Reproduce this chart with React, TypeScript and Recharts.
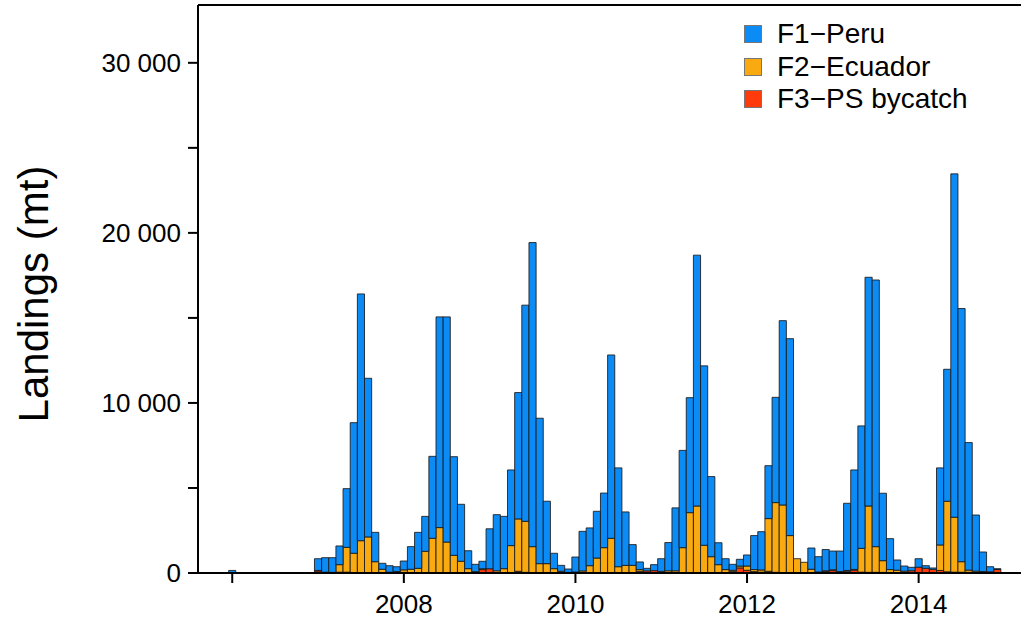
import { BarChart, Bar, XAxis, YAxis, Legend, ReferenceLine } from "recharts";

const font = "'Liberation Sans', Arial, Helvetica, sans-serif";

const startYear = 2006;

// monthly landings (mt), Jan..Dec for each year 2006-2014
const peru = [
  150, 0, 0, 0, 0, 0, 0, 0, 0, 0, 0, 0, // 2006
  690, 850, 860, 1100, 3450, 7680, 14510, 9330, 1725, 350, 380, 280, // 2007
  520, 1330, 2115, 2055, 4820, 12390, 13240, 5800, 3350, 1055, 430, 440, // 2008
  2350, 3300, 3075, 4450, 7430, 12710, 17880, 8550, 3670, 905, 350, 200, // 2009
  880, 2330, 2220, 2750, 3210, 10780, 5810, 3140, 1220, 450, 150, 350, // 2010
  740, 1660, 3700, 5720, 6760, 14750, 10550, 4710, 1290, 640, 350, 400, // 2011
  650, 2000, 2250, 3110, 6190, 10840, 11580, 0, 0, 1250, 900, 1250, // 2012
  1100, 1200, 3950, 5850, 7200, 13450, 15680, 3965, 1820, 600, 300, 200, // 2013
  500, 150, 80, 4530, 7760, 20190, 14885, 7500, 3300, 1150, 300, 50, // 2014
];

const ecuador = [
  0, 0, 0, 0, 0, 0, 0, 0, 0, 0, 0, 0,
  30, 0, 0, 440, 1460, 1130, 1870, 2090, 640, 200, 30, 40,
  150, 200, 255, 1255, 2020, 2650, 1800, 1020, 670, 235, 60, 50,
  0, 100, 225, 1580, 3080, 3000, 1520, 520, 520, 225, 80, 15,
  30, 90, 400, 850, 1460, 2010, 340, 420, 420, 100, 0, 0,
  0, 100, 100, 1460, 3520, 3910, 1600, 930, 460, 170, 80, 105,
  250, 120, 130, 3100, 4100, 3970, 2170, 810, 600, 190, 30, 30,
  50, 0, 50, 50, 1400, 3900, 1510, 690, 170, 135, 80, 0,
  0, 0, 0, 1500, 4150, 3230, 620, 130, 80, 55, 30, 0,
];

const bycatch = [
  0, 0, 0, 0, 0, 0, 0, 0, 0, 0, 0, 0,
  120, 50, 40, 50, 50, 30, 30, 30, 25, 20, 20, 50,
  35, 20, 20, 20, 20, 20, 20, 20, 20, 20, 20, 200,
  250, 30, 30, 30, 100, 40, 30, 30, 30, 30, 20, 20,
  30, 30, 30, 30, 30, 30, 30, 30, 30, 100, 125, 140,
  100, 30, 30, 30, 30, 30, 30, 30, 30, 30, 80, 300,
  160, 80, 50, 100, 40, 30, 30, 30, 30, 30, 30, 100,
  140, 90, 100, 160, 50, 40, 40, 35, 30, 30, 30, 135,
  340, 280, 215, 150, 70, 50, 45, 40, 30, 30, 40, 205,
];

const xTicks = [2006, 2008, 2010, 2012, 2014];
const yTicks = [0, 5000, 10000, 15000, 20000, 25000, 30000];

// stacking order: first one sits at the bottom
const series = [
  { key: "bycatch", name: "F3−PS bycatch", color: "#FF3B0B" },
  { key: "ecuador", name: "F2−Ecuador", color: "#F9AA10" },
  { key: "peru", name: "F1−Peru", color: "#0B8BF6" },
];

const data = peru.map((v, i) => ({
  t: startYear + i / 12,
  peru: v,
  ecuador: ecuador[i],
  bycatch: bycatch[i],
}));

const yMax = 33400;

const YTitle = (props: any) => {
  const vb = props.viewBox;
  const x = 48;
  const y = vb.y + vb.height / 2 + 5;
  return (
    <text
      x={x}
      y={y}
      transform={`rotate(-90, ${x}, ${y})`}
      textAnchor="middle"
      fontSize={42}
      fontFamily={font}
      fill="#000"
    >
      Landings (mt)
    </text>
  );
};

const LegendBox = () => (
  <div style={{ fontFamily: font, fontSize: 28, color: "#000" }}>
    {[...series].reverse().map((s) => (
      <div
        key={s.key}
        style={{ display: "flex", alignItems: "center", height: 32.5 }}
      >
        <span
          style={{
            display: "inline-block",
            width: 16,
            height: 16,
            background: s.color,
            border: "1px solid #777",
            marginRight: 15,
          }}
        />
        <span>{s.name}</span>
      </div>
    ))}
  </div>
);

export default function App() {
  return (
    <div style={{ position: "absolute", left: 0, top: 0 }}>
      <BarChart
        width={1021}
        height={620}
        data={data}
        margin={{ top: 5, right: 0, bottom: 0, left: 0 }}
        barCategoryGap={0}
        style={{ fontFamily: font }}
      >
        <XAxis
          dataKey="t"
          type="number"
          domain={[2005.601, 2015.193]}
          allowDataOverflow
          ticks={xTicks}
          tickFormatter={(v: number) => (v === 2006 ? "" : String(v))}
          height={47}
          tickSize={10}
          tickMargin={12}
          axisLine={{ stroke: "#000", strokeWidth: 2 }}
          tickLine={{ stroke: "#000", strokeWidth: 2 }}
          tick={{ fontSize: 26, fill: "#000", fontFamily: font }}
        />
        <YAxis
          type="number"
          domain={[0, yMax]}
          allowDataOverflow
          ticks={yTicks}
          interval={0}
          width={198}
          tickFormatter={(v: number) =>
            v === 0 ? "0" : v % 10000 === 0 ? `${v / 1000} 000` : ""
          }
          tickSize={10}
          tickMargin={7}
          axisLine={{ stroke: "#000", strokeWidth: 2 }}
          tickLine={{ stroke: "#000", strokeWidth: 2 }}
          tick={{ fontSize: 26, fill: "#000", fontFamily: font }}
          label={<YTitle />}
        />
        <ReferenceLine y={yMax} stroke="#000" strokeWidth={2} />
        {series.map((s) => (
          <Bar
            key={s.key}
            dataKey={s.key}
            name={s.name}
            stackId="a"
            fill={s.color}
            stroke="#1a1a1a"
            strokeWidth={1}
            strokeOpacity={0.85}
            barSize={7.15}
            isAnimationActive={false}
          />
        ))}
        <Legend
          layout="horizontal"
          align="center"
          verticalAlign="middle"
          wrapperStyle={{ left: 744, top: 18, width: 280 }}
          content={<LegendBox />}
        />
      </BarChart>
    </div>
  );
}
